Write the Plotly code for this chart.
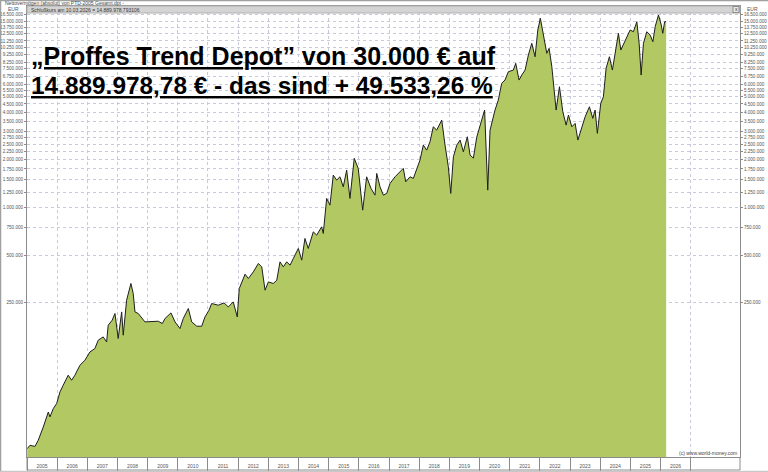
import plotly.graph_objects as go

# ---- data ----
dates = [
    "2005-01-03", "2005-02-06", "2005-04-07", "2005-05-17", "2005-07-17", "2005-09-16", "2005-10-06",
    "2005-11-15", "2005-12-26", "2006-02-04", "2006-03-15", "2006-05-15", "2006-06-25", "2006-08-04",
    "2006-10-04", "2006-12-03", "2007-02-02", "2007-04-03", "2007-05-13", "2007-07-12", "2007-08-23",
    "2007-09-11", "2007-10-29", "2007-12-02", "2008-01-10", "2008-02-21", "2008-03-11", "2008-04-21",
    "2008-06-12", "2008-07-10", "2008-07-31", "2008-09-09", "2008-11-29", "2009-02-18", "2009-05-09",
    "2009-06-27", "2009-07-30", "2009-10-10", "2009-11-28", "2010-01-27", "2010-03-08", "2010-05-08",
    "2010-06-18", "2010-08-18", "2010-10-17", "2010-11-26", "2011-01-13", "2011-02-15", "2011-05-06",
    "2011-07-14", "2011-09-04", "2011-11-03", "2011-12-21", "2012-01-15", "2012-03-25", "2012-05-04",
    "2012-07-03", "2012-09-02", "2012-10-13", "2012-11-22", "2013-01-01", "2013-03-02", "2013-04-13",
    "2013-05-22", "2013-07-01", "2013-08-11", "2013-09-21", "2013-10-30", "2013-12-30", "2014-02-09",
    "2014-03-20", "2014-04-29", "2014-06-29", "2014-08-09", "2014-10-08", "2014-10-28", "2014-12-08",
    "2015-01-17", "2015-02-26", "2015-04-08", "2015-05-18", "2015-06-27", "2015-08-07", "2015-09-16",
    "2015-11-07", "2015-12-25", "2016-02-17", "2016-04-05", "2016-05-28", "2016-07-15", "2016-08-05",
    "2016-09-14", "2016-10-24", "2016-12-04", "2017-01-13", "2017-03-15", "2017-05-14", "2017-06-23",
    "2017-07-22", "2017-09-12", "2017-10-22", "2017-12-02", "2018-01-11", "2018-02-20", "2018-04-02",
    "2018-05-12", "2018-06-21", "2018-08-01", "2018-10-01", "2018-11-10", "2018-12-20", "2019-01-18",
    "2019-02-19", "2019-04-01", "2019-05-11", "2019-06-20", "2019-08-07", "2019-09-09", "2019-10-19",
    "2019-11-29", "2020-01-08", "2020-03-03", "2020-04-10", "2020-05-08", "2020-07-07", "2020-08-16",
    "2020-09-26", "2020-11-05", "2020-12-15", "2021-02-14", "2021-03-15", "2021-04-24", "2021-05-27",
    "2021-07-06", "2021-08-15", "2021-09-25", "2021-11-04", "2021-12-07", "2022-01-07", "2022-02-13",
    "2022-03-26", "2022-04-23", "2022-05-26", "2022-06-23", "2022-07-17", "2022-08-26", "2022-10-06",
    "2022-11-15", "2022-12-13", "2023-01-23", "2023-03-04", "2023-04-06", "2023-05-24", "2023-07-03",
    "2023-08-24", "2023-10-04", "2023-11-01", "2023-11-28", "2024-01-08", "2024-02-09", "2024-03-13",
    "2024-04-22", "2024-05-28", "2024-06-30", "2024-08-09", "2024-09-07", "2024-10-17", "2024-11-19",
    "2024-12-29", "2025-02-07", "2025-03-20", "2025-04-17", "2025-05-11", "2025-06-08", "2025-07-19",
    "2025-08-28", "2025-09-30", "2025-10-28", "2025-12-07", "2026-01-10", "2026-01-28", "2026-02-20",
    "2026-03-10",
]
values = [
    30000, 31500, 31000, 33900, 41100, 51100, 47600,
    53700, 57800, 68400, 75400, 87300, 81100, 87300,
    100900, 108500, 122400, 128600, 145100, 152300, 141600,
    180500, 194100, 214000, 148800, 219000, 156100, 259700,
    331100, 286200, 219000, 214000, 189400, 189400, 191300,
    185000, 199000, 215900, 189400, 172000, 199000, 230100,
    189400, 177900, 177900, 203700, 224500, 247500, 241500,
    249600, 235500, 253300, 203700, 307700, 378900, 356000,
    392000, 442900, 421600, 300300, 338800, 331100, 347300,
    453300, 421600, 453300, 432100, 476200, 550800, 464700,
    637100, 550800, 701400, 668400, 754300, 685300, 1140000,
    1034000, 1600000, 1488000, 1561000, 1349000, 1720000, 1140000,
    2040000, 1764000, 961400, 1561000, 1318000, 1196000, 1640000,
    1349000, 1196000, 1226000, 1418000, 1561000, 1679000, 1764000,
    1451000, 1561000, 1525000, 1764000, 1990000, 2475000, 2301000,
    2597000, 3229000, 3078000, 3560000, 2475000, 1805000, 1226000,
    2087000, 2475000, 2662000, 2245000, 2793000, 2140000, 2048000,
    2781000, 3310000, 4119000, 1286000, 3078000, 4119000, 4762000,
    6073000, 6371000, 7188000, 7368000, 8122000, 6371000, 6851000,
    7368000, 9165000, 10864000, 8942000, 13183000, 15631000, 12567000,
    9393000, 10102000, 7730000, 5508000, 4119000, 5779000, 4018000,
    3310000, 3829000, 3229000, 3393000, 2662000, 3229000, 3735000,
    4320000, 3650000, 4119000, 2934000, 4539000, 4996000, 7553000,
    8942000, 7368000, 9393000, 12567000, 9856000, 10864000, 11959000,
    13183000, 12860000, 14876000, 10864000, 6851000, 10864000, 12860000,
    12260000, 11120000, 13830000, 16400000, 14175000, 12567000, 14876000,
    14889979,
]
years = list(range(2005, 2027))
ytick_vals = [250000, 500000, 750000, 1000000, 1250000, 1500000, 1750000, 2000000,
              2250000, 2500000, 2750000, 3000000, 3500000, 4000000, 4500000, 5000000,
              5500000, 6000000, 6750000, 7500000, 8250000, 9250000, 10250000, 11250000,
              12500000, 13750000, 15000000, 16500000]
ytick_text = [f"{v:,}".replace(",", ".") for v in ytick_vals]

title_line1 = "„Proffes Trend Depot” von 30.000 € auf"
title_line2 = "14.889.978,78 € - das sind + 49.533,26 %"
header_text = "Nettovermögen (absolut) von PTD-2005 Gesamt.dpt -"
close_text = "Schlußkurs am 10.03.2026 = 14.889.978,793106"
copyright_text = "(c) www.world-money.com"

# ---- styling ----
FILL = "#b2c862"
GRID = "#c9c9dc"
FRAME = "#8c8c8c"
TXT = "#555555"
FONT = "Liberation Sans"

W, H = 768, 472
L, R, T, B = 27, 28, 6, 15
PW, PH = W - L - R, H - T - B


def px(X):
    return (X - L) / PW


def py(Y):
    return (H - B - Y) / PH


fig = go.Figure()
# baseline below the visible range so that the area fills to the bottom of the log axis
fig.add_trace(go.Scatter(x=[dates[0], dates[-1]], y=[1, 1], mode="lines",
                         line=dict(width=0, color="rgba(0,0,0,0)"),
                         hoverinfo="skip", showlegend=False))
fig.add_trace(go.Scatter(x=dates, y=values, mode="lines", fill="tonexty",
                         fillcolor=FILL, line=dict(color="#1e1e1e", width=1),
                         showlegend=False, name="PTD"))
# invisible trace for the right axis
fig.add_trace(go.Scatter(x=dates, y=values, mode="lines", yaxis="y2",
                         line=dict(width=0, color="rgba(0,0,0,0)"),
                         hoverinfo="skip", showlegend=False))

yaxis_common = dict(
    type="log", range=[4.4245, 7.2717], tickmode="array",
    tickvals=ytick_vals, ticktext=ytick_text,
    ticks="outside", ticklen=2, tickcolor=FRAME, tickwidth=1,
    tickfont=dict(size=4.6, color=TXT, family=FONT),
    showline=True, linecolor=FRAME, linewidth=1, zeroline=False,
)

fig.update_layout(
    width=W, height=H,
    margin=dict(l=L, r=R, t=T, b=B, autoexpand=False),
    paper_bgcolor="white", plot_bgcolor="white",
    showlegend=False,
    xaxis=dict(
        type="date", range=["2005-01-01", "2028-08-20"],
        tickmode="array",
        tickvals=[f"{y}-07-02" for y in years],
        ticktext=[str(y) for y in years],
        ticks="", showgrid=False,
        tickfont=dict(size=5, color=TXT, family=FONT),
        ticklabelstandoff=4,
        showline=True, linecolor=FRAME, linewidth=1, mirror=True,
        zeroline=False,
        minor=dict(tickmode="array",
                   tickvals=[f"{y}-01-01" for y in years + [years[-1] + 1]],
                   showgrid=True, griddash="dot", gridcolor=GRID, gridwidth=1,
                   ticks="outside", ticklen=13, tickcolor=FRAME, tickwidth=1),
    ),
    yaxis=dict(**yaxis_common, side="left", showgrid=True, griddash="dot",
               gridcolor=GRID, gridwidth=1),
    yaxis2=dict(**yaxis_common, side="right", overlaying="y", showgrid=False),
)

shapes = [
    # header band inside the plot top
    dict(type="rect", xref="paper", yref="paper", x0=0, x1=1, y0=py(13), y1=1,
         fillcolor="#d4d4d4", line=dict(color="#b0b0b0", width=1), layer="above"),
    # small close box
    dict(type="rect", xref="paper", yref="paper", x0=px(733), x1=px(739), y0=py(12.5), y1=py(6.5),
         fillcolor="#e8e8e8", line=dict(color="#777", width=0.8), layer="above"),
    # bottom year box
    dict(type="line", xref="paper", yref="paper", x0=0, x1=1, y0=py(470), y1=py(470),
         line=dict(color=FRAME, width=1)),
    dict(type="line", xref="paper", yref="paper", x0=0, x1=0, y0=py(470), y1=0,
         line=dict(color=FRAME, width=1)),
    dict(type="line", xref="paper", yref="paper", x0=1, x1=1, y0=py(470), y1=0,
         line=dict(color=FRAME, width=1)),
    # outer frame
    dict(type="line", xref="paper", yref="paper", x0=px(0), x1=px(768), y0=py(0.5), y1=py(0.5),
         line=dict(color="#a0a0a0", width=1.5)),
    dict(type="line", xref="paper", yref="paper", x0=px(0.5), x1=px(0.5), y0=py(472), y1=py(0),
         line=dict(color="#a0a0a0", width=1.5)),
    dict(type="line", xref="paper", yref="paper", x0=px(0), x1=px(768), y0=py(471.5), y1=py(471.5),
         line=dict(color="#c8c8c8", width=1.5)),
]
fig.update_layout(shapes=shapes)

ann = [
    dict(text=header_text, x=px(2.5), y=py(3.4), xanchor="left", yanchor="middle",
         font=dict(size=5, color="#444", family=FONT)),
    dict(text=close_text, x=px(29), y=py(9.6), xanchor="left", yanchor="middle",
         font=dict(size=5, color="#333", family=FONT)),
    dict(text="x", x=px(736), y=py(9.3), xanchor="center", yanchor="middle",
         font=dict(size=5, color="#333", family=FONT)),
    dict(text="EUR", x=px(13), y=py(9.0), xanchor="center", yanchor="middle",
         font=dict(size=5, color=TXT, family=FONT)),
    dict(text="EUR", x=px(752), y=py(9.0), xanchor="center", yanchor="middle",
         font=dict(size=5, color=TXT, family=FONT)),
    dict(text=f"<b><u>{title_line1}</u></b>", x=px(29), y=py(56), xanchor="left",
         yanchor="middle", font=dict(size=25, color="black", family=FONT)),
    dict(text=f"<b><u>{title_line2}</u></b>", x=px(29), y=py(85), xanchor="left",
         yanchor="middle", font=dict(size=24.4, color="black", family=FONT)),
    dict(text=copyright_text, x=px(739), y=py(453), xanchor="right", yanchor="middle",
         font=dict(size=5, color="#444", family=FONT)),
]
for a in ann:
    a.update(xref="paper", yref="paper", showarrow=False)
fig.update_layout(annotations=ann)

fig.write_html(
    "out.html",
    config={"displayModeBar": False},
    post_script=("document.body.style.margin='0';document.body.style.padding='0';"
                 "document.documentElement.style.overflow='hidden';"),
)
